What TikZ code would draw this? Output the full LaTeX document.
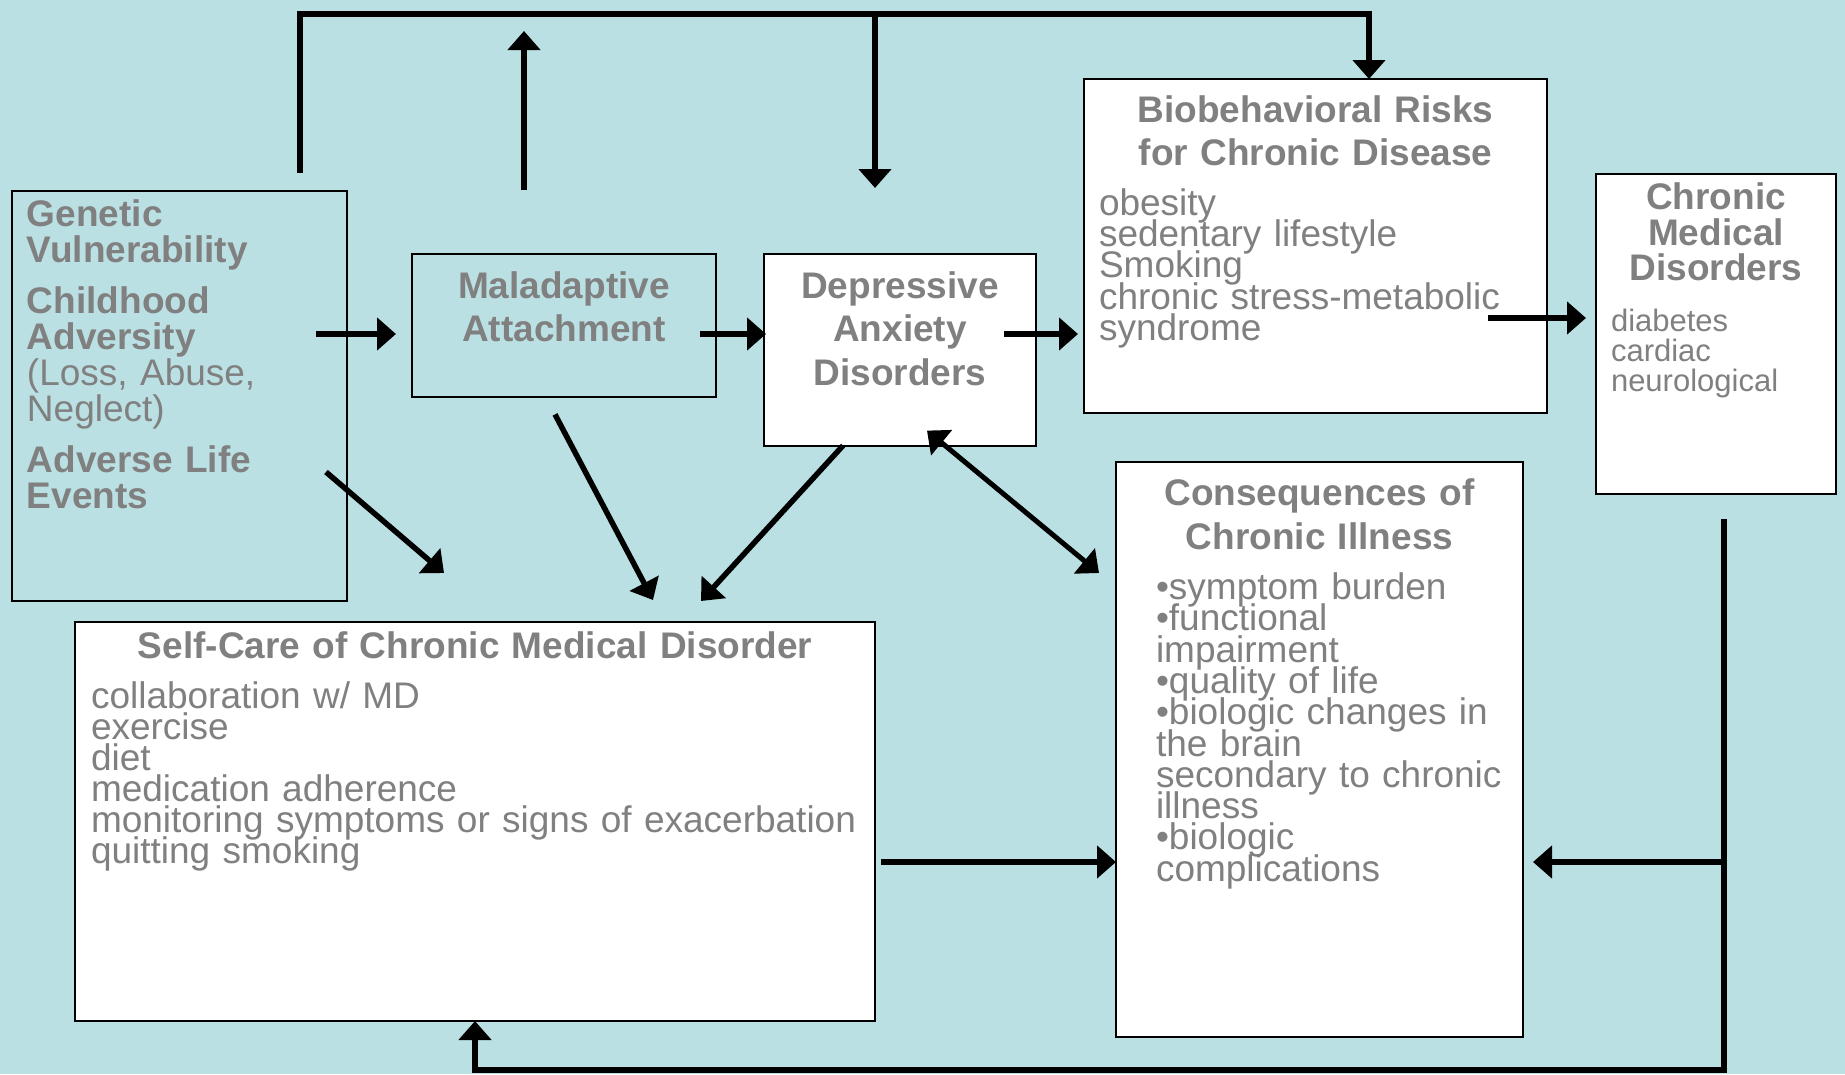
\documentclass[tikz,border=0pt]{standalone}
\usepackage{fontspec}
\setmainfont{Liberation Sans}
\usetikzlibrary{positioning, arrows.meta, calc}
\definecolor{bgteal}{RGB}{187,224,227}
\definecolor{textgray}{RGB}{128,128,128}
% tight line spacing of the slide text: never fall back to \lineskip
\newcommand{\panelfont}[2]{\fontsize{#1}{#2}\selectfont\lineskiplimit=-100pt\relax}
\newcommand{\panelhead}[1]{\panelfont{37}{#1}\bfseries}

\begin{document}
\begin{tikzpicture}[
	x=1pt, y=-1pt, % pixel grid of the slide, y runs down
	>={Triangle[length=19pt, width=32pt]},
	% Style for boxes
	panel/.style={
		rectangle,
		draw=black,
		line width=2pt,
		anchor=north west,
		inner ysep=0pt,
		outer sep=0pt,
		text=textgray,
		font=\panelfont{37}{31}
	},
	clearpanel/.style={panel},             % boxes on the background
	whitepanel/.style={panel, fill=white}, % boxes with white fill
	% Arrow styles
	link/.style={->, line width=5.5pt},
	twoway/.style={<->, line width=5pt}
	]
	
	% --- BACKGROUND ---
	\useasboundingbox (0,0) rectangle (1845,1074);
	\fill[bgteal] (0,0) rectangle (1845,1074);
	
	% --- TOP ROW ---
	
	% Risk factors
	\node[clearpanel, align=left, inner xsep=15pt, text width=305pt, text height=35.5pt, text depth=374.5pt, font=\panelhead{36}] (gen) at (12,191) {Genetic\\ Vulnerability\\[15pt] Childhood\\ Adversity\\ {\mdseries (Loss, Abuse,\\ Neglect)}\\[15pt] Adverse Life\\ Events};
	
	% Attachment
	\node[clearpanel, align=center, inner xsep=10pt, text width=284pt, text height=44pt, text depth=99.4pt, font=\panelhead{43.5}] (mal) at (412,254) {Maladaptive\\ Attachment};
	
	% Depression / anxiety
	\node[whitepanel, align=center, inner xsep=10pt, text width=252pt, text height=44pt, text depth=147.6pt, font=\panelhead{43.5}] (dep) at (764,254) {Depressive\\ Anxiety\\ Disorders};
	
	% Risks
	\node[whitepanel, align=left, inner xsep=15pt, text width=433pt, text height=43pt, text depth=291pt, font=\panelfont{37}{31.3}] (bio) at (1084,79) {{\panelhead{43.5}\centering Biobehavioral Risks\\ for Chronic Disease\par}\vspace{18.5pt}{obesity\\ sedentary lifestyle\\ Smoking\\ chronic stress-metabolic\\ syndrome\par}};
	
	% Disorders
	\node[whitepanel, align=left, inner xsep=15pt, text width=210pt, text height=35.5pt, text depth=284pt, font=\panelfont{31}{30}] (cmd) at (1596,174) {{\panelhead{35.7}\centering Chronic\\ Medical\\ Disorders\par}\vspace{21pt}{diabetes\\ cardiac\\ neurological\par}};
	
	% --- BOTTOM ROW ---
	
	% Self-care
	\node[whitepanel, align=left, inner xsep=16pt, text width=768pt, text height=36.5pt, text depth=362.5pt, font=\panelfont{37}{30.9}] (selfcare) at (75,622) {{\panelhead{43.5}\centering Self-Care of Chronic Medical Disorder\par}\vspace{19.1pt}{collaboration w/ MD\\ exercise\\ diet\\ medication adherence\\ monitoring symptoms or signs of exacerbation\\ quitting smoking\par}};
	
	% Consequences
	\node[whitepanel, align=left, inner xsep=10pt, text width=387pt, text height=43.2pt, text depth=531.8pt, font=\panelfont{37}{31.3}] (cons) at (1116,462) {{\panelhead{43.8}\centering Consequences of\\ Chronic Illness\par}\vspace{19.2pt}{\leftskip=30pt •symptom burden\\ •functional\\ impairment\\ •quality of life\\ •biologic changes in\\ the brain\\ secondary to chronic\\ illness\\ •biologic\\ complications\par}};
	
	% --- CONNECTIONS ---
	
	% Feedback line over the top
	\draw[link] ($(gen.north west)+(288,-18)$) |- ($(bio.north west)+(285,-65)$) -- ($(bio.north west)+(285,0)$);
	\draw[link] ($(dep.north west)+(111,-240)$) -- ($(dep.north west)+(111,-66)$);
	\draw[link] ($(mal.north west)+(112,-64)$) -- ($(mal.north west)+(112,-223)$);
	
	% Main row
	\draw[link] ($(gen.north east)+(-31,143)$) -- ($(mal.north west)+(-16,80)$);
	\draw[link] ($(mal.north east)+(-16,80)$) -- ($(dep.north west)+(2,80)$);
	\draw[link] ($(dep.north east)+(-32,80)$) -- ($(bio.north west)+(-6,255)$);
	\draw[link] ($(bio.north east)+(-59,239)$) -- ($(cmd.north west)+(-10,144)$);
	
	% Into self-care
	\draw[link] ($(gen.north east)+(-21,281)$) -- ($(selfcare.north west)+(369,-49)$);
	\draw[link] ($(mal.south west)+(143,17)$) -- ($(selfcare.north west)+(578,-22)$);
	\draw[link] ($(dep.south west)+(79,0)$) -- ($(selfcare.north west)+(626,-21)$);
	
	% Depression <-> consequences
	\draw[twoway] ($(dep.south west)+(163,-15)$) -- ($(cons.north west)+(-17,111)$);
	
	% Self-care drives consequences
	\draw[link] ($(selfcare.north east)+(6,240)$) -- ($(cons.north west)+(0,400)$);
	
	% Return line on the right
	\draw[link] ($(cmd.south west)+(128,25)$) |- ($(selfcare.south)+(0,49)$) -- (selfcare.south);
	\draw[link] ($(cmd.south west)+(128,368.5)$) -- ($(cons.north east)+(10,400)$);
	
\end{tikzpicture}
\end{document}
